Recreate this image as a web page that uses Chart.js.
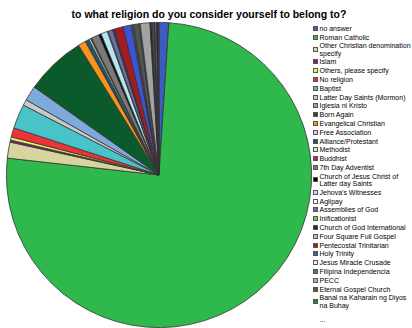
<!DOCTYPE html>
<html>
<head>
<meta charset="utf-8">
<script src="https://cdn.jsdelivr.net/npm/chart.js@4.4.1/dist/chart.umd.min.js"></script>
<style>
body { margin:0; width:412px; height:328px; overflow:hidden; background:#fff; position:relative;
       font-family:"Liberation Sans", Arial, sans-serif; }
#title { position:absolute; left:0; top:7.5px; width:418px; text-align:center; font-weight:bold;
         font-size:10.5px; line-height:12px; color:#000; white-space:nowrap; }
#pie { position:absolute; left:6px; top:22px; }
#legend { position:absolute; left:313px; top:24px; width:99px; font-size:7px; color:#000; }
.item { display:flex; align-items:center; padding:0.8px 0; line-height:7.2px; }
.box { width:5px; height:5px; box-sizing:border-box; border:1px solid #555; flex:none; margin-right:1.5px; }
.txt { width:92.5px; }
.more { padding:6.3px 0 0 6.5px; line-height:7.2px; }
</style>
</head>
<body>
<div id="title">to what religion do you consider yourself to belong to?</div>
<canvas id="pie" width="306" height="306"></canvas>
<div id="legend"></div>
<script>
// answers shown in the legend (share of the pie)
const labels = ['no answer', 'Roman Catholic', 'Other Christian denomination specify', 'Islam',
    'Others, please specify', 'No religion', 'Baptist', 'Latter Day Saints (Mormon)', 'Iglesia ni Kristo',
    'Born Again', 'Evangelical Christian', 'Free Association', 'Alliance/Protestant', 'Methodist',
    'Buddhist', '7th Day Adventist', 'Church of Jesus Christ of Latter day Saints', "Jehova's Witnesses",
    'Aglipay', 'Assemblies of God', 'Inificationist', 'Church of God International',
    'Four Square Full Gospel', 'Pentecostal Trinitarian', 'Holy Trinity', 'Jesus Miracle Crusade',
    'Filipina Independencia', 'PECC', 'Eternal Gospel Church', 'Banal na Kaharain ng Diyos na Buhay'];
const shares = [3.7, 272.6, 6.1, 0.8, 1.2, 3.5, 9.3, 2.2, 5.7, 23.0, 2.9, 0.3, 1.3, 0.7, 0.4, 3.0, 0.9, 2.5,
    0.3, 1.8, 0.2, 0.3, 0.2, 3.4, 3.0, 0.3, 0.4, 0.3, 2.0, 0.5];
const colors = ['#3d5cc0', '#2fb84c', '#d8d4a0', '#7a1f80', '#f5f055', '#ee3338', '#48c4c8', '#cacaca',
    '#7eaadb', '#0b5a2b', '#f7941d', '#e6c8f2', '#17596e', '#c6f0c0', '#b2286e', '#7a7a7a', '#000000',
    '#b5e8ee', '#ffffff', '#6b6ea8', '#5ad070', '#2a2a2a', '#9cc8f0', '#a61a22', '#3a56d8', '#f2f2f2',
    '#2282a8', '#c4a6e6', '#555555', '#0d8a3e'];

// answers cut off from the legend ("...")
const moreShares = [3.7, 0.6, 0.4, 0.5, 0.4, 0.6, 0.5, 0.4];
const moreColors = ['#a3a3a3', '#1e1e1e', '#505050', '#7a7ab8', '#202020', '#8c8c8c', '#101010', '#4a4aa0'];

function buildLegend(){
    const legend = document.getElementById('legend');
    labels.forEach((label, i) => {
        const item = document.createElement('div');
        item.className = 'item';
        const box = document.createElement('span');
        box.className = 'box';
        box.style.background = colors[i];
        const txt = document.createElement('span');
        txt.className = 'txt';
        txt.textContent = label;
        item.appendChild(box);
        item.appendChild(txt);
        legend.appendChild(item);
    });
    const more = document.createElement('div');
    more.className = 'more';
    more.textContent = '...';
    legend.appendChild(more);
}

function setup(){
    buildLegend();
    const ctx = document.getElementById('pie');
    const allLabels = labels.concat(moreShares.map(() => ''));

    new Chart(ctx, {
        type: 'pie',
        data: {
            labels: allLabels,
            datasets: [{
                data: shares.concat(moreShares),
                backgroundColor: colors.concat(moreColors),
                borderColor: '#333',
                borderWidth: 0.8
            }]
        },
        options: {
            responsive: false,
            animation: false,
            devicePixelRatio: 1,
            layout: { padding: 0 },
            plugins: {
                legend: { display: false },
                title: { display: false },
                tooltip: { enabled: false }
            }
        }
    });
}

window.onload = setup;
</script>
</body>
</html>
